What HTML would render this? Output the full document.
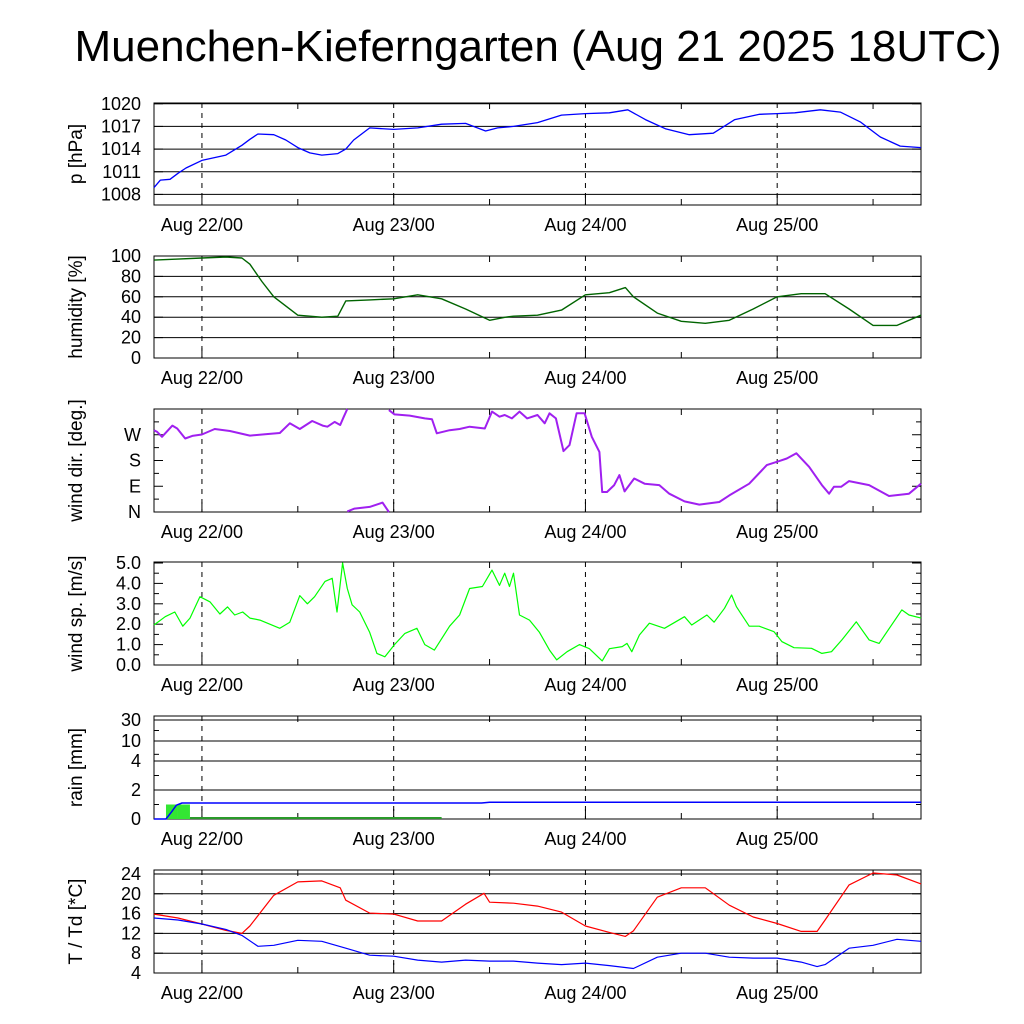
<!DOCTYPE html>
<html><head><meta charset="utf-8"><style>
body{margin:0;background:#fff;font-family:"Liberation Sans",sans-serif}
svg{display:block}
</style></head><body>
<svg id="c" width="1024" height="1024" xmlns="http://www.w3.org/2000/svg">
<text x="538" y="61" font-size="44" text-anchor="middle">Muenchen-Kieferngarten (Aug 21 2025 18UTC)</text>
</svg>
<script>
const dayLabels=["Aug 22/00","Aug 23/00","Aug 24/00","Aug 25/00"];
const dayHours=[6,30,54,78];
const minorHours=[18,42,66,90];
// pressure
const pH=[0,0.8,2,3,4,6,9,11,12,13,15,16.5,18,19.5,21,23,24,25,27,30,33,36,39,41.5,43,45,48,51,54,57,59.3,61.5,64,67,70,72.7,75.8,78,80.2,83.4,85.9,88.4,90.9,93.4,96];
const pV=[1008.9,1009.9,1010,1010.8,1011.5,1012.5,1013.2,1014.5,1015.3,1016,1015.9,1015.2,1014.2,1013.5,1013.2,1013.4,1014,1015.2,1016.8,1016.6,1016.8,1017.3,1017.4,1016.4,1016.8,1017,1017.5,1018.5,1018.7,1018.8,1019.2,1017.9,1016.7,1015.9,1016.1,1017.9,1018.6,1018.7,1018.8,1019.2,1018.9,1017.6,1015.6,1014.4,1014.2];
const pTicks=[1008,1011,1014,1017,1020];
// humidity
const hH=[0,3,6,9,11,12,13.5,15,18,21,23,24,27,30,33,36,39,42,44,45,48,51,54,57,59,60,63,66,69,72,75,78,81,84,87,90,93,96];
const hV=[96,97,98,99,98,92,75,60,42,40,41,56,57,58,62,58,48,37,40,41,42,47,62,64,69,60,44,36,34,37,48,60,63,63,48,32,32,42];
const hTicks=[0,20,40,60,80,100];
// wind direction
const dH=[0,0.4,1,2.3,2.9,3.9,4.8,6,7.6,9.5,12,13.9,15.75,17,18.25,19.8,21.1,21.7,22.6,23.3,23.75,24.2,24.2,25.1,27,28.6,29.4,29.4,30.1,32,33.9,34.8,35.4,37,38.25,39.5,41.4,42.3,43.25,43.9,44.8,45.75,46.7,48,48.9,49.5,50.3,51.25,52,52.9,53.9,54.8,55.75,56.1,56.7,57.6,58.25,58.9,60.1,61.4,63.25,64.5,66.4,68.25,70.75,72,74.5,76.7,78.25,79.2,80.4,82,83.6,84.5,85.1,86,87,89.5,92,94.5,96];
const dV=[286,280,263,302,292,257,266,271,290,283,267,272,276,310,290,318,302,298,315,304,333,360,2,12,18,33,0,356,341,337,327,324,275,286,290,298,292,351,333,339,327,351,327,339,310,345,327,213,234,345,345,263,210,70,70,94,129,72,117,99,94,64,37,26,35,58,99,164,178,187,205,158,94,64,88,88,108,94,56,64,99];
const dTickV=[0,90,180,270];
const dTickL=["N","E","S","W"];
// wind speed
const sH=[0,1.4,2.6,3.6,4.5,5.75,7,8.25,9.2,10.1,11.1,12,13.25,15.75,17,18.25,19.2,20.1,21.4,22.3,22.9,23.6,24.2,24.8,25.75,27,27.9,28.9,30.1,31.4,32.9,33.9,35.1,37,38.25,39.5,41.1,42.3,43.25,43.9,44.5,45,45.75,47,48.25,49.5,50.4,51.7,53.25,54.5,56.1,57,58.6,59.2,59.8,60.75,62,63.9,66.4,67.3,69.2,70.1,71.4,72.3,72.9,74.5,75.75,77.6,78.6,80.1,82.3,83.6,84.8,86.1,87.9,89.5,90.75,93.6,94.5,96];
const sV=[1.96,2.37,2.6,1.9,2.3,3.35,3.1,2.5,2.85,2.45,2.6,2.3,2.2,1.8,2.1,3.4,3.0,3.35,4.1,4.25,2.6,5.0,3.75,2.95,2.6,1.6,0.57,0.4,1.0,1.55,1.8,1.0,0.73,1.9,2.45,3.75,3.85,4.65,3.9,4.5,3.85,4.5,2.45,2.2,1.6,0.73,0.25,0.65,1.0,0.8,0.2,0.8,0.9,1.06,0.65,1.47,2.05,1.8,2.37,1.96,2.45,2.1,2.78,3.43,2.86,1.9,1.9,1.63,1.14,0.85,0.82,0.57,0.65,1.23,2.12,1.23,1.06,2.7,2.45,2.3];
const sTicks=[0,1,2,3,4,5];
// rain
const rCumH=[0,1.5,2.2,2.8,3.5,41,42,96];
const rCumV=[0,0,0.5,0.95,1.1,1.1,1.15,1.15];
const rBarH=[1.5,3];
const rBarV=[1.0,1.0];
const rTicks=[0,2,4,10,30];
// temperature
const tH=[0,3,6,9,11,12,15,18,21,23.3,24,27,30,33,36,39,41.3,42,45,48,51,54,57,59,60,63,66,69,72,75,78,81,83,84,87,90,93,96];
const tV=[15.9,15.1,13.9,12.6,12,13.5,19.7,22.4,22.6,21.2,18.7,16.1,15.9,14.5,14.5,17.9,20.1,18.3,18.1,17.5,16.3,13.5,12.2,11.4,12.5,19.3,21.2,21.2,17.7,15.3,14,12.4,12.4,14.7,21.8,24.2,23.8,22];
const tdH=[0,3,6,9,11,13,15,18,21,24,27,30,33,36,39,42,45,48,51,54,57,60,63,66,69,72,75,78,81,83,84,87,90,93,96];
const tdV=[15.1,14.7,13.9,12.8,11.6,9.4,9.6,10.6,10.4,9,7.6,7.4,6.6,6.2,6.6,6.4,6.4,6,5.7,6,5.5,4.9,7.2,8,8,7.2,7,7,6.2,5.3,5.7,9,9.6,10.8,10.4];
const tTicks=[4,8,12,16,20,24];

const NS="http://www.w3.org/2000/svg";
const svg=document.getElementById('c');
const X0=154,X1=921;
const xs=h=>X0+(X1-X0)*h/96;
function mk(tag,attrs,parent){const e=document.createElementNS(NS,tag);for(const k in attrs)e.setAttribute(k,attrs[k]);(parent||svg).appendChild(e);return e;}

function panel(name,top,bot,ys,ticks,labels,grid,minor,ylabel){
  const g=mk('g',{});
  
  
  if(grid){ticks.forEach(v=>{const y=ys(v);const l=mk('line',{x1:X0,x2:X1,y1:y,y2:y,stroke:'#000','stroke-width':1},g);
    
    });}
  dayHours.forEach(h=>{const l=mk('line',{x1:xs(h),x2:xs(h),y1:top,y2:bot,stroke:'#000','stroke-dasharray':'5,5'},g);
    
    });
  minorHours.forEach(h=>{mk('line',{x1:xs(h),x2:xs(h),y1:bot,y2:bot-6,stroke:'#000'},g);mk('line',{x1:xs(h),x2:xs(h),y1:top,y2:top+6,stroke:'#000'},g);});
  dayHours.forEach(h=>{mk('line',{x1:xs(h),x2:xs(h),y1:bot,y2:bot-10,stroke:'#000'},g);});
  ticks.forEach((v,i)=>{const y=ys(v);
    mk('line',{x1:X0,x2:X0+9,y1:y,y2:y,stroke:'#000'},g);mk('line',{x1:X1,x2:X1-9,y1:y,y2:y,stroke:'#000'},g);
    const t=mk('text',{x:X0-13,y:y+6,'font-size':18,'text-anchor':'end'},g);t.textContent=labels[i];
    
    });
  (minor||[]).forEach(v=>{const y=ys(v);mk('line',{x1:X0,x2:X0+5,y1:y,y2:y,stroke:'#000'},g);mk('line',{x1:X1,x2:X1-5,y1:y,y2:y,stroke:'#000'},g);});
  const r=mk('rect',{x:X0,y:top,width:X1-X0,height:bot-top,fill:'none',stroke:'#000','stroke-width':1},g);
  
  
  const cy=(top+bot)/2;
  const yl=mk('text',{x:0,y:0,'font-size':19,'text-anchor':'middle',transform:`translate(82,${cy}) rotate(-90)`},g);yl.textContent=ylabel;
  
  
  dayHours.forEach((h,i)=>{const t=mk('text',{x:xs(h),y:bot+26,'font-size':18,'text-anchor':'middle'},g);t.textContent=dayLabels[i];
    
    });
  return g;
}
function line(hs,vs,ys,color,name,w,breakWrap){
  let segs=[[]];
  for(let i=0;i<hs.length;i++){
    if(breakWrap&&i>0&&Math.abs(vs[i]-vs[i-1])>180)segs.push([]);
    segs[segs.length-1].push(xs(hs[i]).toFixed(1)+','+ys(vs[i]).toFixed(1));
  }
  segs.forEach(s=>{const p=mk('polyline',{points:s.join(' '),fill:'none',stroke:color,'stroke-width':w||1.2,'stroke-linejoin':'round'});
    
    });
}
const lin=(v0,v1,y0,y1)=>v=>y0+(y1-y0)*(v-v0)/(v1-v0);

const yP=lin(1006.6,1020.1,205,103);
panel('pressure',103,205,yP,pTicks,pTicks.map(String),true,null,'p [hPa]');
line(pH,pV,yP,'#0000ff','pressure-line',1.3);
const yHu=lin(0,100,358,256);
panel('humidity',256,358,yHu,hTicks,hTicks.map(String),true,null,'humidity [%]');
line(hH,hV,yHu,'#006400','humidity-line',1.4);
const yD=lin(0,360,512,409);
panel('wind-direction',409,512,yD,dTickV,dTickL,false,[45,135,225,315],'wind dir. [deg.]');
line(dH,dV,yD,'#a020f0','wind-direction-line',2,true);
const yS=lin(0,5,665,563);
panel('wind-speed',562,665,yS,sTicks,sTicks.map(v=>v.toFixed(1)),false,[0.5,1.5,2.5,3.5,4.5],'wind sp. [m/s]');
line(sH,sV,yS,'#00ff00','wind-speed-line',1.2);
const rY=[819,790,761,741,720];
const yR=v=>{for(let i=0;i<rTicks.length-1;i++){if(v<=rTicks[i+1])return rY[i]+(rY[i+1]-rY[i])*(v-rTicks[i])/(rTicks[i+1]-rTicks[i]);}return 716;};
panel('rain',716,819,yR,rTicks,rTicks.map(String),true,[1,3,6,20],'rain [mm]');
rBarH.forEach((h,i)=>{const b=mk('rect',{x:xs(h),y:yR(rBarV[i]),width:xs(h+1.5)-xs(h),height:819-yR(rBarV[i]),fill:'#33e633'});
  
  });
const gb=mk('rect',{x:xs(4.5),y:817,width:xs(36)-xs(4.5),height:2,fill:'#2a9a2a'});


line(rCumH,rCumV,yR,'#0000ff','rain-cumulative-line',1.5);
const yT=lin(4,24.8,973,870);
panel('temperature',870,973,yT,tTicks,tTicks.map(String),true,null,'T / Td [*C]');
line(tH,tV,yT,'#ff0000','temperature-line',1.2);
line(tdH,tdV,yT,'#0000ff','dewpoint-line',1.2);
</script>
</body></html>
